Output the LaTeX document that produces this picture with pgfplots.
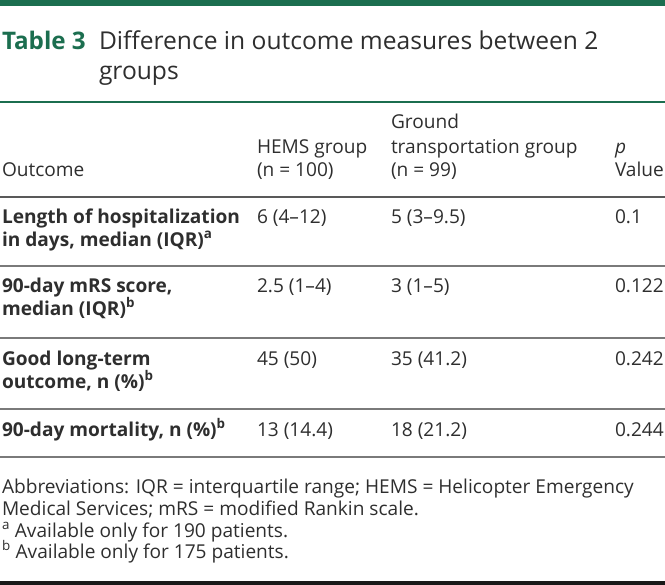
\documentclass[border=0pt]{standalone}
\usepackage{pgfplots}
\pgfplotsset{compat=1.18}
\usepackage{fontspec}
\setmainfont{Open Sans}
\definecolor{jgreen}{HTML}{1B6E4F}
\definecolor{txt}{HTML}{2E2E2E}
\definecolor{rule}{HTML}{7A7A7A}
\tikzset{
  c/.style={inner sep=0pt, outer sep=0pt, anchor=base west, text=txt,
    font=\fontsize{19.1bp}{23bp}\selectfont},
  t/.style={inner sep=0pt, outer sep=0pt, anchor=base west, text=txt,
    font=\fontsize{24.6bp}{30bp}\selectfont},
}
\begin{document}
\begin{tikzpicture}
\begin{axis}[
  width=665bp, height=585bp, scale only axis,
  xmin=0, xmax=665, ymin=0, ymax=585, y dir=reverse,
  hide axis, clip=false,
]
% rules
\fill[jgreen] (axis cs:0,0) rectangle (axis cs:665,6.5);
\fill[jgreen] (axis cs:0,100.7) rectangle (axis cs:665,103.3);
\fill[black!65] (axis cs:0,195.5) rectangle (axis cs:665,197.5);
\fill[rule] (axis cs:0,265.3) rectangle (axis cs:665,266.8);
\fill[rule] (axis cs:0,337.3) rectangle (axis cs:665,338.8);
\fill[rule] (axis cs:0,408.3) rectangle (axis cs:665,409.8);
\fill[rule] (axis cs:0,456.3) rectangle (axis cs:665,457.8);
\fill[black!90] (axis cs:0,581.3) rectangle (axis cs:665,585);
% title
\node[t, font=\fontsize{24.2bp}{30bp}\selectfont\bfseries, text=jgreen] at (axis cs:2,50) {Table 3};
\node[t] at (axis cs:99,50) {Difference in outcome measures between 2};
\node[t] at (axis cs:99,80) {groups};
% header
\node[c] at (axis cs:391,128) {Ground};
\node[c] at (axis cs:257,153) {HEMS group};
\node[c] at (axis cs:391,153) {transportation group};
\node[c] at (axis cs:615,153) {\itshape p};
\node[c] at (axis cs:2,176) {Outcome};
\node[c] at (axis cs:257,176) {(n = 100)};
\node[c] at (axis cs:391,176) {(n = 99)};
\node[c] at (axis cs:615,176) {Value};
% row 1
\node[c] at (axis cs:2,223) {\bfseries Length of hospitalization};
\node[c] at (axis cs:2,246) {\bfseries in days, median (IQR)\textsuperscript{a}};
\node[c] at (axis cs:257,223) {6 (4–12)};
\node[c] at (axis cs:391,223) {5 (3–9.5)};
\node[c] at (axis cs:615,223) {0.1};
% row 2
\node[c] at (axis cs:2,292) {\bfseries 90-day mRS score,};
\node[c] at (axis cs:2,315) {\bfseries median (IQR)\textsuperscript{b}};
\node[c] at (axis cs:257,292) {2.5 (1–4)};
\node[c] at (axis cs:391,292) {3 (1–5)};
\node[c] at (axis cs:615,292) {0.122};
% row 3
\node[c] at (axis cs:2,365) {\bfseries Good long-term};
\node[c] at (axis cs:2,388) {\bfseries outcome, n (\%)\textsuperscript{b}};
\node[c] at (axis cs:257,365) {45 (50)};
\node[c] at (axis cs:391,365) {35 (41.2)};
\node[c] at (axis cs:615,365) {0.242};
% row 4
\node[c] at (axis cs:2,436) {\bfseries 90-day mortality, n (\%)\textsuperscript{b}};
\node[c] at (axis cs:257,436) {13 (14.4)};
\node[c] at (axis cs:391,436) {18 (21.2)};
\node[c] at (axis cs:615,436) {0.244};
% footnotes
\node[c] at (axis cs:2,493) {Abbreviations: IQR = interquartile range; HEMS = Helicopter Emergency};
\node[c] at (axis cs:2,515) {Medical Services; mRS = modified Rankin scale.};
\node[c] at (axis cs:2,537) {\textsuperscript{a} Available only for 190 patients.};
\node[c] at (axis cs:2,558) {\textsuperscript{b} Available only for 175 patients.};
\end{axis}
\pgfresetboundingbox
\path (current axis.south west) rectangle (current axis.north east);
\end{tikzpicture}
\end{document}
